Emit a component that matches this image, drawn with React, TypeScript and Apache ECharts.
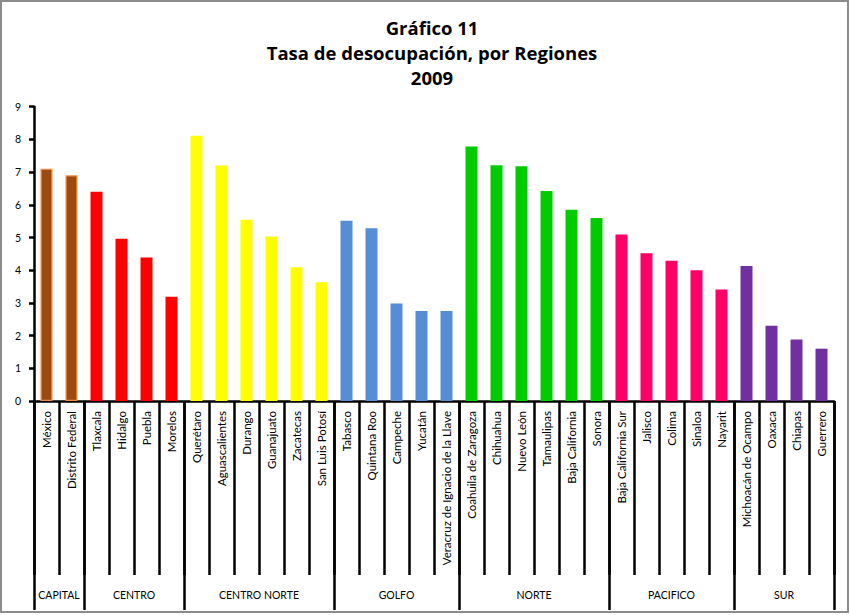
import React, { useEffect, useRef } from "react";
import * as echarts from "echarts";

const categories = [
  "México", "Distrito Federal",
  "Tlaxcala", "Hidalgo", "Puebla", "Morelos",
  "Querétaro", "Aguascalientes", "Durango", "Guanajuato", "Zacatecas", "San Luis Potosí",
  "Tabasco", "Quintana Roo", "Campeche", "Yucatán", "Veracruz de Ignacio de la Llave",
  "Coahuila de Zaragoza", "Chihuahua", "Nuevo León", "Tamaulipas", "Baja California", "Sonora",
  "Baja California Sur", "Jalisco", "Colima", "Sinaloa", "Nayarit",
  "Michoacán de Ocampo", "Oaxaca", "Chiapas", "Guerrero",
];
const values = [
  7.1, 6.9,
  6.4, 4.96, 4.39, 3.19,
  8.11, 7.2, 5.54, 5.03, 4.09, 3.63,
  5.51, 5.28, 2.98, 2.75, 2.75,
  7.78, 7.21, 7.18, 6.42, 5.85, 5.6,
  5.09, 4.52, 4.29, 4.0, 3.41,
  4.13, 2.3, 1.88, 1.6,
];
const regions = ["CAPITAL", "CENTRO", "CENTRO NORTE", "GOLFO", "NORTE", "PACIFICO", "SUR"];
const regionSizes = [2, 4, 6, 5, 6, 5, 4];
const yMin = 0;
const yMax = 9;
const yInterval = 1;

const regionColors = ["#9C4A0E", "#FF0000", "#FFFF00", "#558ED5", "#00CC00", "#FF0066", "#7030A0"];
const FONT = "Lato";

export default function App() {
  const ref = useRef<HTMLDivElement>(null);
  useEffect(() => {
    if (!ref.current) return;
    const chart = echarts.init(ref.current, null, { renderer: "svg" });

    const bounds: number[] = [0];
    regionSizes.forEach((s) => bounds.push(bounds[bounds.length - 1] + s));
    const centers = regionSizes.map((s, i) => bounds[i] + s / 2);
    const regionOf = (idx: number) => {
      for (let r = 0; r < regionSizes.length; r++) if (idx < bounds[r + 1]) return r;
      return regionSizes.length - 1;
    };

    const data = values.map((v, i) => {
      const r = regionOf(i);
      const item: any = { value: v, itemStyle: { color: regionColors[r] } };
      if (r === 0) {
        item.itemStyle.borderColor = "#EE8A44";
        item.itemStyle.borderWidth = 1.2;
      }
      return item;
    });

    chart.setOption({
      animation: false,
      backgroundColor: "#ffffff",
      title: {
        text: "Gráfico 11\nTasa de desocupación, por Regiones\n2009",
        left: 427,
        top: 10,
        textAlign: "center",
        textStyle: {
          fontFamily: "Open Sans",
          fontSize: 18.5,
          fontWeight: "bold",
          color: "#000",
          lineHeight: 25,
        },
      },
      graphic: [
        {
          type: "rect",
          shape: { x: 1, y: 1, width: 847, height: 611 },
          style: { fill: "none", stroke: "#8c8c8c", lineWidth: 2 },
          silent: true,
        },
      ],
      grid: { left: 34, right: 16, top: 106.7, bottom: 214, containLabel: false },
      xAxis: [
        {
          type: "category",
          data: categories,
          boundaryGap: true,
          axisLine: { show: true, lineStyle: { color: "#000", width: 2.5 } },
          axisTick: { show: true, interval: 0, length: 174, lineStyle: { color: "#000", width: 2.5 } },
          axisLabel: {
            interval: 0,
            rotate: 90,
            margin: 10,
            fontFamily: FONT,
            fontSize: 11.5,
            color: "#000",
          },
        },
        {
          type: "value",
          min: 0,
          max: bounds[bounds.length - 1],
          position: "bottom",
          axisLine: { show: false },
          splitLine: { show: false },
          axisTick: {
            show: true,
            customValues: bounds,
            length: 209,
            lineStyle: { color: "#000", width: 2.5 },
          },
          axisLabel: {
            show: true,
            customValues: centers,
            margin: 188,
            fontFamily: FONT,
            fontSize: 10.5,
            color: "#000",
            formatter: (v: number) => {
              const k = centers.findIndex((c) => Math.abs(c - v) < 1e-6);
              return k >= 0 ? regions[k] : "";
            },
          },
        },
      ],
      yAxis: {
        type: "value",
        min: yMin,
        max: yMax,
        interval: yInterval,
        axisLine: { show: true, lineStyle: { color: "#000", width: 2.5 } },
        axisTick: { show: true, length: 5, lineStyle: { color: "#000", width: 2.5 } },
        splitLine: { show: false },
        axisLabel: { margin: 13, fontFamily: FONT, fontSize: 10.5, color: "#000" },
      },
      series: [
        {
          type: "bar",
          xAxisIndex: 0,
          yAxisIndex: 0,
          barWidth: 12,
          data,
        },
      ],
    });
    return () => chart.dispose();
  }, []);

  return (
    <div
      ref={ref}
      style={{ position: "fixed", left: 0, top: 0, width: 850, height: 615 }}
    />
  );
}
